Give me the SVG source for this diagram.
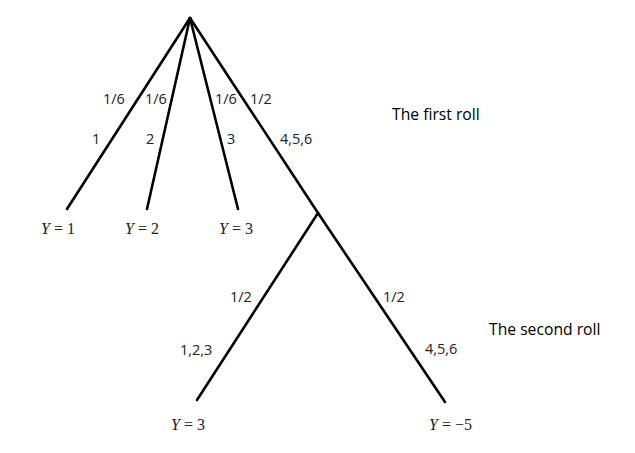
<svg xmlns="http://www.w3.org/2000/svg" width="635" height="453" viewBox="0 0 635 453">
<style>
.e{stroke:#000;stroke-width:2.6;stroke-linecap:round;fill:none}
.l{font-family:"Open Sans","Liberation Sans",sans-serif;font-size:14.5px;fill:#222}
.h{font-family:"Open Sans","Liberation Sans",sans-serif;font-size:15.7px;fill:#000}
.y{font-family:"Liberation Serif","DejaVu Serif",serif;font-size:16px;fill:#222}
.i{font-style:italic}
</style>
<rect width="635" height="453" fill="#fff"/>
<g id="connectors">
<line class="e" x1="190" y1="18" x2="67" y2="209"/>
<line class="e" x1="190" y1="18" x2="147" y2="209"/>
<line class="e" x1="190" y1="18" x2="238" y2="209"/>
<line class="e" x1="190" y1="18" x2="318" y2="213"/>
<line class="e" x1="318" y1="213" x2="197" y2="400"/>
<line class="e" x1="318" y1="213" x2="445" y2="402"/>
</g>
<g id="edge-labels">
<text class="l" x="103" y="104">1/6</text>
<text class="l" x="145" y="104">1/6</text>
<text class="l" x="215" y="104">1/6</text>
<text class="l" x="250" y="104">1/2</text>
<text class="l" x="92" y="144">1</text>
<text class="l" x="146" y="144">2</text>
<text class="l" x="227" y="144">3</text>
<text class="l" x="280" y="144">4,5,6</text>
<text class="l" x="230" y="302">1/2</text>
<text class="l" x="180" y="355">1,2,3</text>
<text class="l" x="383" y="302">1/2</text>
<text class="l" x="425" y="354">4,5,6</text>
</g>
<g id="headers">
<text class="h" x="392" y="120">The first roll</text>
<text class="h" x="489" y="335">The second roll</text>
</g>
<g id="root"><circle cx="190" cy="18" r="0.1" fill="#000"/></g>
<g id="leaf-y1"><text class="y" x="41" y="234"><tspan class="i">Y</tspan><tspan dx="4">=</tspan><tspan dx="4">1</tspan></text></g>
<g id="leaf-y2"><text class="y" x="125" y="234"><tspan class="i">Y</tspan><tspan dx="4">=</tspan><tspan dx="4">2</tspan></text></g>
<g id="leaf-y3a"><text class="y" x="219" y="234"><tspan class="i">Y</tspan><tspan dx="4">=</tspan><tspan dx="4">3</tspan></text></g>
<g id="leaf-y3b"><text class="y" x="171" y="430"><tspan class="i">Y</tspan><tspan dx="4">=</tspan><tspan dx="4">3</tspan></text></g>
<g id="leaf-y-5"><text class="y" x="429" y="430"><tspan class="i">Y</tspan><tspan dx="4">=</tspan><tspan dx="4">−5</tspan></text></g>
</svg>
